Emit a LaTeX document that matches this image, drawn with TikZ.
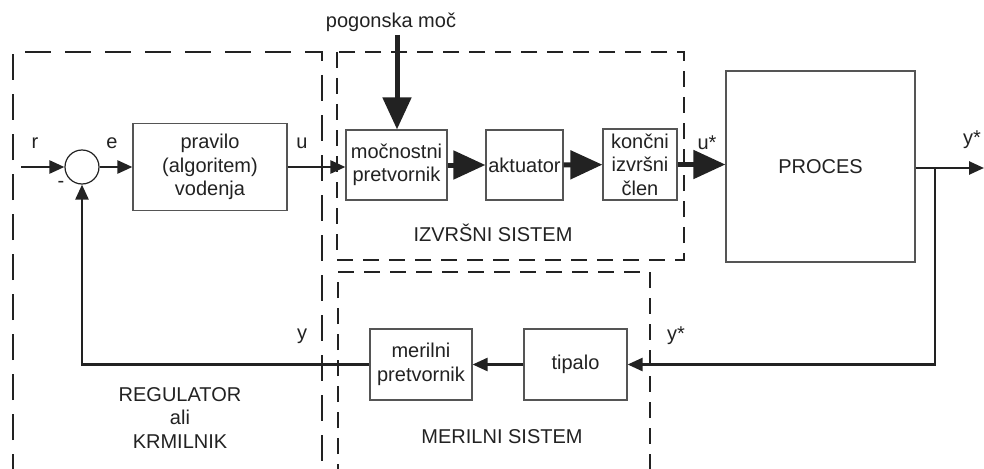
\documentclass[tikz,border=0pt]{standalone}
\usepackage{fontspec}
\setmainfont{Liberation Sans}
\usetikzlibrary{arrows.meta}
\definecolor{ink}{HTML}{222222}
\definecolor{boxc}{HTML}{555555}
\tikzset{
  txt/.style={font=\fontsize{20}{23.5}\selectfont, text=ink, inner sep=0pt, align=center},
  blk/.style={txt, draw=boxc, line width=1.2pt, rectangle},
  conn/.style={draw=ink, line width=2.5pt},
  arr/.style={conn, -{Triangle[length=15pt,width=13pt]}},
  bigarr/.style={draw=ink, line width=5pt, -{Triangle[length=32pt,width=28pt]}},
  dashA/.style={draw=ink, line width=2.5pt, dash pattern=on 26pt off 14pt},
  dashB/.style={draw=ink, line width=2.5pt, dash pattern=on 16pt off 10pt},
}
\begin{document}
\begin{tikzpicture}[x=1pt,y=-1pt]
\useasboundingbox (0,0) rectangle (984,468);
\fill[white] (0,0) rectangle (984,468);
\begin{scope}
\clip (0,0) rectangle (984,468);
% dashed groups
\draw[dashA] (13,480) -- (13,52) -- (322,52) -- (322,480);
\draw[dashB] (337,52) rectangle (684,260);
\draw[dashB] (338,480) -- (338,272) -- (650,272) -- (650,480);
\end{scope}

% blocks
\node[draw=ink, line width=1.2pt, circle, minimum size=34pt, inner sep=0pt] (sum) at (82,167) {};
\node[blk, minimum width=154pt, minimum height=87pt] (prav) at (210,167) {pravilo\\(algoritem)\\vodenja};
\node[blk, minimum width=101pt, minimum height=70pt] (moc) at (396.5,165) {močnostni\\pretvornik};
\node[blk, minimum width=77pt, minimum height=70pt] (akt) at (524.5,165) {aktuator};
\node[blk, minimum width=74pt, minimum height=71pt] (konc) at (640,164.5) {končni\\izvršni\\člen};
\node[blk, minimum width=189pt, minimum height=191pt] (proc) at (820.5,166.5) {PROCES};
\node[blk, minimum width=103pt, minimum height=71pt] (tip) at (575.5,364.5) {tipalo};
\node[blk, minimum width=102pt, minimum height=71pt] (mer) at (421,364.5) {merilni\\pretvornik};

% labels
\node[txt] (pog) at (391,22) {pogonska moč};
\node[txt] (lr) at (35,143) {r};
\node[txt] (le) at (112,143) {e};
\node[txt] (lm) at (61,184) {-};
\node[txt] (lu) at (302,143) {u};
\node[txt] (lus) at (707,143) {u*};
\node[txt] (lys) at (972,140) {y*};
\node[txt] (lys2) at (676,336) {y*};
\node[txt] (ly) at (302,336) {y};
\node[txt] (lizv) at (493,233) {IZVRŠNI SISTEM};
\node[txt] (lmer) at (502,437) {MERILNI SISTEM};
\node[txt] (lreg) at (180,418) {REGULATOR\\ali\\KRMILNIK};

% connectors
\coordinate (rin) at (21,167);
\coordinate (out) at (984,168);
\coordinate (br) at (935,168);
\coordinate (pogtop) at (397,35);
\draw[arr] (rin) -- (sum);
\draw[arr] (sum) -- (prav);
\draw[arr] (prav.east) -- (prav.east -| moc.west);
\draw[bigarr] (pogtop) -- (pogtop |- moc.north);
\draw[bigarr] (moc) -- (akt);
\draw[bigarr] (akt) -- (konc);
\draw[bigarr] (konc.east) -- (konc.east -| proc.west);
\draw[arr] (proc.east |- out) -- (out);
\draw[arr] (br) |- (tip.east);
\draw[arr] (tip) -- (mer);
\draw[arr] (mer.west) -| (sum.south);
\end{tikzpicture}
\end{document}
